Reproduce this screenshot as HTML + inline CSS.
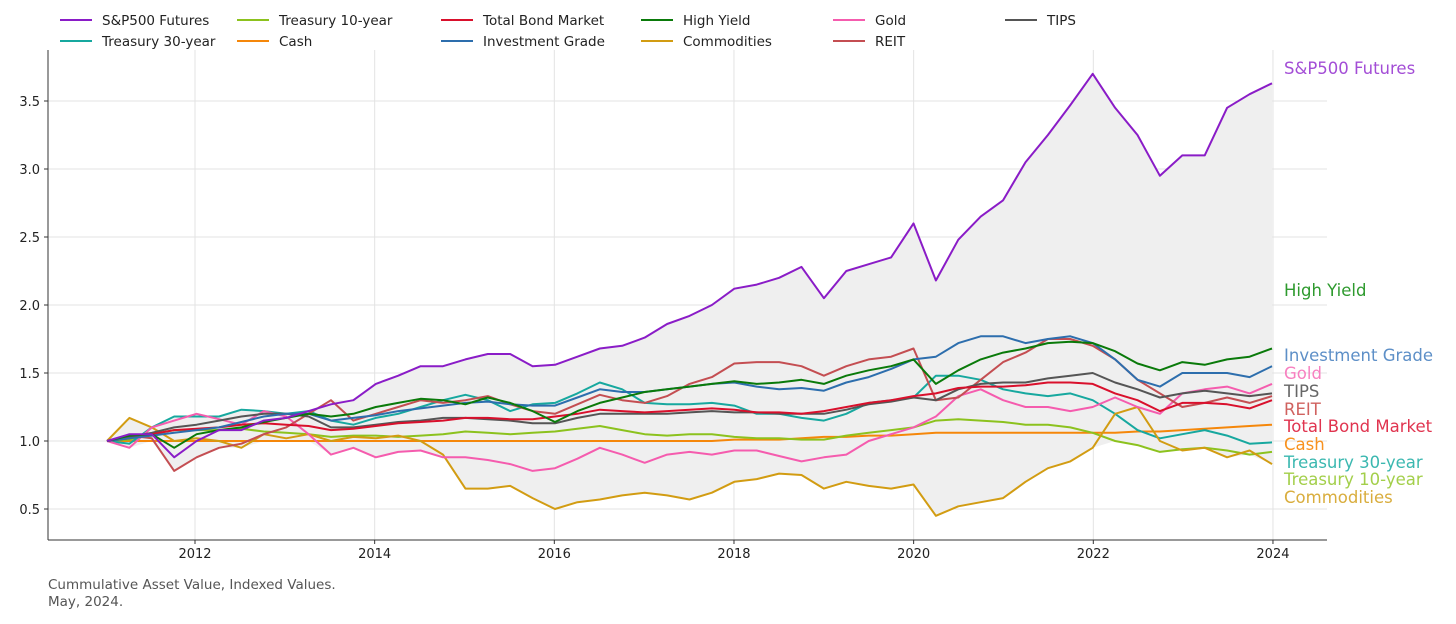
<!DOCTYPE html>
<html><head><meta charset="utf-8"><style>
body{margin:0;background:#fff;font-family:"DejaVu Sans","Liberation Sans",sans-serif;}
svg{display:block;font-family:"DejaVu Sans","Liberation Sans",sans-serif;}
</style></head><body>
<svg id="chart" width="1456" height="624"></svg>
<script>
const years = [2012,2014,2016,2018,2020,2022,2024];
const yTicks = [0.5,1.0,1.5,2.0,2.5,3.0,3.5];
const seriesNames = ["S&P500 Futures","Treasury 30-year","Treasury 10-year","Cash","Total Bond Market","Investment Grade","High Yield","Commodities","Gold","REIT","TIPS"];
const sp500 = [1.0,1.05,1.05,0.88,1.0,1.08,1.08,1.15,1.17,1.22,1.27,1.3,1.42,1.48,1.55,1.55,1.6,1.64,1.64,1.55,1.56,1.62,1.68,1.7,1.76,1.86,1.92,2.0,2.12,2.15,2.2,2.28,2.05,2.25,2.3,2.35,2.6,2.18,2.48,2.65,2.77,3.05,3.25,3.47,3.7,3.45,3.25,2.95,3.1,3.1,3.45,3.55,3.63];
const treas30 = [1.0,0.98,1.1,1.18,1.18,1.18,1.23,1.22,1.2,1.22,1.15,1.12,1.17,1.2,1.25,1.3,1.34,1.3,1.22,1.27,1.28,1.35,1.43,1.38,1.28,1.27,1.27,1.28,1.26,1.2,1.2,1.17,1.15,1.2,1.28,1.3,1.32,1.48,1.48,1.45,1.38,1.35,1.33,1.35,1.3,1.2,1.08,1.02,1.05,1.08,1.04,0.98,0.99];
const treas10 = [1.0,1.01,1.05,1.08,1.08,1.08,1.09,1.07,1.06,1.05,1.03,1.04,1.04,1.03,1.04,1.05,1.07,1.06,1.05,1.06,1.07,1.09,1.11,1.08,1.05,1.04,1.05,1.05,1.03,1.02,1.02,1.01,1.01,1.04,1.06,1.08,1.1,1.15,1.16,1.15,1.14,1.12,1.12,1.1,1.06,1.0,0.97,0.92,0.94,0.95,0.93,0.9,0.92];
const cash = [1.0,1.0,1.0,1.0,1.0,1.0,1.0,1.0,1.0,1.0,1.0,1.0,1.0,1.0,1.0,1.0,1.0,1.0,1.0,1.0,1.0,1.0,1.0,1.0,1.0,1.0,1.0,1.0,1.01,1.01,1.01,1.02,1.03,1.03,1.04,1.04,1.05,1.06,1.06,1.06,1.06,1.06,1.06,1.06,1.06,1.06,1.07,1.07,1.08,1.09,1.1,1.11,1.12];
const totalBond = [1.0,1.02,1.05,1.08,1.09,1.1,1.12,1.13,1.12,1.11,1.08,1.09,1.11,1.13,1.14,1.15,1.17,1.17,1.16,1.16,1.18,1.2,1.23,1.22,1.21,1.22,1.23,1.24,1.23,1.21,1.21,1.2,1.22,1.25,1.28,1.3,1.33,1.35,1.39,1.4,1.4,1.41,1.43,1.43,1.42,1.35,1.3,1.22,1.28,1.28,1.27,1.24,1.3];
const invGrade = [1.0,1.02,1.04,1.06,1.08,1.1,1.14,1.18,1.2,1.2,1.15,1.17,1.19,1.22,1.24,1.26,1.28,1.29,1.27,1.26,1.26,1.32,1.38,1.36,1.36,1.38,1.4,1.42,1.43,1.4,1.38,1.39,1.37,1.43,1.47,1.53,1.6,1.62,1.72,1.77,1.77,1.72,1.75,1.77,1.72,1.6,1.45,1.4,1.5,1.5,1.5,1.47,1.55];
const highYield = [1.0,1.04,1.05,0.95,1.05,1.08,1.1,1.14,1.17,1.2,1.18,1.2,1.25,1.28,1.31,1.3,1.27,1.32,1.28,1.22,1.14,1.22,1.28,1.32,1.36,1.38,1.4,1.42,1.44,1.42,1.43,1.45,1.42,1.48,1.52,1.55,1.6,1.42,1.52,1.6,1.65,1.68,1.72,1.73,1.72,1.66,1.57,1.52,1.58,1.56,1.6,1.62,1.68];
const commodities = [1.0,1.17,1.1,1.0,1.02,1.0,0.95,1.05,1.02,1.05,1.0,1.03,1.02,1.04,1.0,0.9,0.65,0.65,0.67,0.58,0.5,0.55,0.57,0.6,0.62,0.6,0.57,0.62,0.7,0.72,0.76,0.75,0.65,0.7,0.67,0.65,0.68,0.45,0.52,0.55,0.58,0.7,0.8,0.85,0.95,1.2,1.25,1.0,0.93,0.95,0.88,0.93,0.83];
const gold = [1.0,0.95,1.1,1.15,1.2,1.16,1.12,1.22,1.18,1.05,0.9,0.95,0.88,0.92,0.93,0.88,0.88,0.86,0.83,0.78,0.8,0.87,0.95,0.9,0.84,0.9,0.92,0.9,0.93,0.93,0.89,0.85,0.88,0.9,1.0,1.05,1.1,1.18,1.33,1.38,1.3,1.25,1.25,1.22,1.25,1.32,1.25,1.2,1.35,1.38,1.4,1.35,1.42];
const reit = [1.0,1.04,1.02,0.78,0.88,0.95,0.98,1.05,1.1,1.2,1.3,1.15,1.2,1.25,1.3,1.28,1.3,1.33,1.27,1.22,1.2,1.27,1.34,1.3,1.28,1.33,1.42,1.47,1.57,1.58,1.58,1.55,1.48,1.55,1.6,1.62,1.68,1.3,1.32,1.45,1.58,1.65,1.75,1.75,1.7,1.6,1.45,1.35,1.25,1.28,1.32,1.28,1.33];
const tips = [1.0,1.03,1.06,1.1,1.12,1.15,1.18,1.2,1.2,1.18,1.1,1.1,1.12,1.14,1.15,1.17,1.17,1.16,1.15,1.13,1.13,1.17,1.2,1.2,1.2,1.2,1.21,1.22,1.21,1.21,1.2,1.2,1.2,1.23,1.27,1.29,1.32,1.3,1.38,1.42,1.43,1.43,1.46,1.48,1.5,1.43,1.38,1.32,1.35,1.37,1.35,1.33,1.35];

const NS="http://www.w3.org/2000/svg";
const svg=document.getElementById('chart');
const X0=48,X1=1327,Y0=50,Y1=540;
const STEP=0.2494;
function xs(t){return 195+(t-2012)*89.83;}
function ys(v){return 441-(v-1)*136;}
function mk(tag,attrs,parent){const e=document.createElementNS(NS,tag);for(const k in attrs)e.setAttribute(k,attrs[k]);(parent||svg).appendChild(e);return e;}
const dates=sp500.map((_,i)=>2011.02+i*STEP);
const all=[sp500,treas30,treas10,cash,totalBond,invGrade,highYield,commodities,gold,reit,tips];
const colors=["#8a1cc7","#17a89f","#8cc21e","#f5870a","#d9102c","#2d6ead","#0a7a0a","#d29c12","#f55cae","#c44e52","#555555"];
const labelColors=["#a34dd6","#3bb8b0","#a3cf4a","#f8921f","#e0344f","#5d8fc7","#2e9a2e","#d9ad3d","#f780c0","#d0625f","#666666"];

const grid=mk('g',{});


yTicks.forEach(v=>{
  const l=mk('line',{x1:X0,x2:X1,y1:ys(v),y2:ys(v),stroke:"#e3e3e3","stroke-width":1},grid);
  
  
});
years.forEach(y=>{
  const l=mk('line',{x1:xs(y),x2:xs(y),y1:Y0,y2:Y1,stroke:"#e3e3e3","stroke-width":1},grid);
  
  
});
const topPts=[],botPts=[];
dates.forEach((d,i)=>{
  const vals=all.map(s=>s[i]).filter(v=>typeof v==="number");
  topPts.push(xs(d).toFixed(1)+","+ys(Math.max(...vals)).toFixed(1));
  botPts.push(xs(d).toFixed(1)+","+ys(Math.min(...vals)).toFixed(1));
});
const band=mk('polygon',{points:topPts.concat(botPts.slice().reverse()).join(" "),fill:"#efefef"});


const order=[3,2,1,7,8,9,10,4,5,6,0];
order.forEach(k=>{
  const pts=all[k].map((v,i)=>xs(dates[i]).toFixed(1)+","+ys(v).toFixed(1)).join(" ");
  const p=mk('polyline',{points:pts,fill:"none",stroke:colors[k],"stroke-width":2,"stroke-linejoin":"round"});
  
  
});
const ax=mk('g',{});


mk('line',{x1:X0,x2:X0,y1:Y0,y2:Y1,stroke:"#333","stroke-width":1},ax);
mk('line',{x1:X0,x2:X1,y1:Y1,y2:Y1,stroke:"#333","stroke-width":1},ax);
yTicks.forEach(v=>{
  mk('line',{x1:X0-4,x2:X0,y1:ys(v),y2:ys(v),stroke:"#333"},ax);
  const t=mk('text',{x:X0-8,y:ys(v)+5,"text-anchor":"end","font-size":13,fill:"#222"},ax);
  t.textContent=v.toFixed(1);
  
  
});
years.forEach(y=>{
  mk('line',{x1:xs(y),x2:xs(y),y1:Y1,y2:Y1+4,stroke:"#333"},ax);
  const t=mk('text',{x:xs(y),y:Y1+18,"text-anchor":"middle","font-size":13,fill:"#222"},ax);
  t.textContent=y;
  
  
});
const labelY=[68,462,479,444,426,355,290,497,373,409,391];
seriesNames.forEach((n,k)=>{
  const t=mk('text',{x:1284,y:labelY[k]+6,"font-size":16.5,fill:labelColors[k]});
  t.textContent=n;
  
  
});
const legPos=[[0,0],[0,1],[1,0],[1,1],[2,0],[2,1],[3,0],[3,1],[4,0],[4,1],[5,0]];
const colX=[60,237,441,641,833,1005];
const lg=mk('g',{});


seriesNames.forEach((n,k)=>{
  const c=legPos[k][0],r=legPos[k][1];
  const g=mk('g',{},lg);
  
  
  const y=20+r*21;
  mk('line',{x1:colX[c],x2:colX[c]+32,y1:y,y2:y,stroke:colors[k],"stroke-width":2},g);
  const t=mk('text',{x:colX[c]+42,y:y+5,"font-size":13.5,fill:"#222"},g);
  t.textContent=n;
});
const c1=mk('text',{x:48,y:589,"font-size":13.5,fill:"#555"});
c1.textContent="Cummulative Asset Value, Indexed Values.";


const c2=mk('text',{x:48,y:606,"font-size":13.5,fill:"#555"});
c2.textContent="May, 2024.";


</script>
</body></html>
